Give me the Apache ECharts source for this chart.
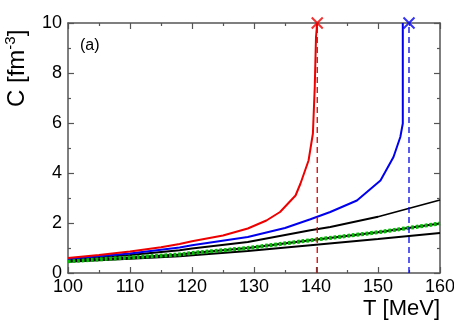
<!DOCTYPE html>
<html><head><meta charset="utf-8">
<script src="https://cdn.jsdelivr.net/npm/echarts@6/dist/echarts.min.js"></script>
<style>html,body{margin:0;padding:0;background:#fff}#c{width:454px;height:321px}</style>
</head><body><div id="c"></div>
<script>
var xTicks = [100, 110, 120, 130, 140, 150, 160];
var yTicks = [0, 2, 4, 6, 8, 10];
var redT = [100, 105, 110, 115, 118, 120, 125, 129, 132, 134.2, 136.7, 137.5, 138.8, 139.5, 139.8, 140, 140.2];
var redC = [0.60, 0.72, 0.86, 1.03, 1.16, 1.27, 1.50, 1.78, 2.1, 2.44, 3.1, 3.58, 4.5, 5.58, 7.44, 9.44, 10];
var blueT = [100, 110, 118, 120, 129, 135, 139.1, 142.3, 146.6, 150.4, 152.5, 153.6, 154, 154];
var blueC = [0.57, 0.78, 1.02, 1.11, 1.44, 1.8, 2.15, 2.44, 2.9, 3.7, 4.64, 5.44, 5.98, 10];
var blackUpT = [100, 110, 118, 120, 129, 139.1, 142.3, 150, 160];
var blackUpC = [0.52, 0.72, 0.91, 0.98, 1.24, 1.71, 1.84, 2.25, 2.92];
var greenT = [100, 110, 118, 120, 129, 139.1, 150, 160];
var greenC = [0.47, 0.62, 0.74, 0.80, 1.00, 1.31, 1.63, 1.98];
var blackLowT = [100, 110, 118, 129, 139.1, 150, 160];
var blackLowC = [0.45, 0.57, 0.67, 0.88, 1.11, 1.36, 1.60];
var redTc = 140.2, blueTc = 155;
var yMax = 10;

function zip(a, b) { return a.map(function (v, i) { return [v, b[i]]; }); }
var chart = echarts.init(document.getElementById('c'), null, {renderer: 'canvas'});
var axCol = '#555';
function xa(pos, lab) {
  return {type: 'value', position: pos, min: xTicks[0], max: xTicks[xTicks.length - 1], interval: 10,
    axisLine: {show: true, onZero: false, lineStyle: {color: axCol, width: 1.5}},
    axisTick: {show: true, inside: true, length: 6, lineStyle: {color: axCol, width: 1.2}},
    minorTick: {show: true, splitNumber: 2, length: 3, lineStyle: {color: axCol, width: 1.2}},
    splitLine: {show: false},
    axisLabel: {show: lab, fontFamily: 'Liberation Sans', fontSize: 18, color: '#000', margin: 5}};
}
function ya(pos, lab) {
  return {type: 'value', position: pos, min: yTicks[0], max: yMax, interval: 2,
    axisLine: {show: true, onZero: false, lineStyle: {color: axCol, width: 1.5}},
    axisTick: {show: true, inside: true, length: 6, lineStyle: {color: axCol, width: 1.2}},
    minorTick: {show: true, splitNumber: 2, length: 3, lineStyle: {color: axCol, width: 1.2}},
    splitLine: {show: false},
    axisLabel: {show: lab, fontFamily: 'Liberation Sans', fontSize: 18, color: '#000', margin: 6}};
}
function line(data, color, width, type) {
  return {type: 'line', data: data, showSymbol: false, symbol: 'none', smooth: false,
    lineStyle: {color: color, width: width, type: type || 'solid', cap: 'butt'}, z: 3, animation: false};
}
var cross = 'path://M0,0L10,10M10,0L0,10';
chart.setOption({
  animation: false,
  grid: {left: 68, right: 14, top: 23, bottom: 48, containLabel: false, outerBoundsMode: 'none'},
  xAxis: [xa('bottom', true), xa('top', false)],
  yAxis: [ya('left', true), ya('right', false)],
  series: [
    line(zip(blackLowT, blackLowC), '#000', 1.8),
    line(zip(greenT, greenC), '#000', 2),
    line(zip(blackUpT, blackUpC), '#000', 1.8),
    line(zip(greenT, greenC), '#00bb00', 4, [2.7, 1.9]),
    line(zip(blueT, blueC), '#0000ee', 2),
    line(zip(redT, redC), '#ee0000', 2),
    line([[redTc, 0], [redTc, yMax]], '#dd0000', 1.3, [6, 4]),
    line([[blueTc, 0], [blueTc, yMax]], '#0000ee', 1.3, [6, 4]),
    {type: 'scatter', data: [[redTc, yMax]], symbol: cross, symbolSize: 11, clip: false, z: 5,
      itemStyle: {color: 'none', borderColor: '#ee0000', borderWidth: 2}},
    {type: 'scatter', data: [[blueTc, yMax]], symbol: cross, symbolSize: 11, clip: false, z: 5,
      itemStyle: {color: 'none', borderColor: '#0000ee', borderWidth: 2}}
  ],
  graphic: [
    {type: 'text', left: 80, top: 38, style: {text: '(a)', fontFamily: 'Liberation Sans', fontSize: 16, fill: '#000'}},
    {type: 'text', x: 440, y: 309, style: {text: 'T [MeV]', fontFamily: 'Liberation Sans', fontSize: 22, fill: '#000', align: 'right', verticalAlign: 'middle'}},
    {type: 'text', x: 17, y: 107, rotation: Math.PI / 2,
      style: {text: '{a|C [fm}{b|-3}{a|]}', align: 'left', verticalAlign: 'middle',
        rich: {a: {fontFamily: 'Liberation Sans', fontSize: 24, fill: '#000', lineHeight: 28},
               b: {fontFamily: 'Liberation Sans', fontSize: 15, fill: '#000', padding: [0, 0, 12, 0]}}}}
  ]
});
</script></body></html>
